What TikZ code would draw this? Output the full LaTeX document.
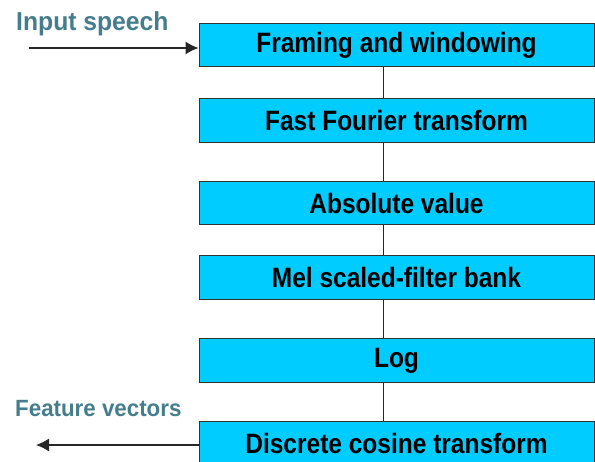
\documentclass[tikz,border=0pt]{standalone}
\usepackage{fontspec}
\setmainfont{Liberation Sans}
\newfontfamily\stagefont[FakeStretch=0.875]{Liberation Sans}
\newfontfamily\labelfont[FakeStretch=0.95]{Liberation Sans}
\usetikzlibrary{arrows.meta}
\definecolor{boxfill}{RGB}{0,204,255}
\definecolor{boxline}{RGB}{50,50,50}
\definecolor{labelcol}{RGB}{70,125,140}
\tikzset{
  stage/.style={draw=boxline, line width=1pt, fill=boxfill, minimum width=395pt,
    minimum height=43.5pt, inner sep=0pt, font=\stagefont\fontsize{28}{32}\selectfont\bfseries},
  link/.style={draw=black!85, line width=0.8pt},
  flow/.style={draw=black!85, line width=1.2pt, -{Latex[length=13pt,width=13pt]}},
  caption/.style={text=labelcol, inner sep=0pt, anchor=base west}
}
\begin{document}
\begin{tikzpicture}[x=1pt,y=1pt]
\useasboundingbox (0,0) rectangle (595,461);
\clip (0,0) rectangle (595,461);
% processing stages, top to bottom
\node[stage] (b1) at (396.5,416) {Framing and windowing};
\node[stage] (b2) at (396.5,340.5) {Fast Fourier transform};
\node[stage] (b3) at (396.5,258) {Absolute value};
\node[stage] (b4) at (396.5,183.5) {Mel scaled-filter bank};
\node[stage] (b5) at (396.5,100.5) {Log};
\node[stage] (b6) at (396.5,18) {Discrete cosine transform};
% links between stages
\coordinate (spine) at (383,0);
\draw[link] (b1.south -| spine) -- (b2.north -| spine);
\draw[link] (b2.south -| spine) -- (b3.north -| spine);
\draw[link] (b3.south -| spine) -- (b4.north -| spine);
\draw[link] (b4.south -| spine) -- (b5.north -| spine);
\draw[link] (b5.south -| spine) -- (b6.north -| spine);
% input and output
\coordinate (src) at (29,413);
\coordinate (dst) at (36,16);
\draw[flow] (src) -- (src -| b1.west);
\draw[flow] (dst -| b6.west) -- (dst);
\node[caption, font=\labelfont\fontsize{26}{30}\selectfont\bfseries] (inlab) at (16,430) {Input speech};
\node[caption, font=\labelfont\fontsize{23.5}{27}\selectfont\bfseries] (outlab) at (15,44) {Feature vectors};
\end{tikzpicture}
\end{document}
